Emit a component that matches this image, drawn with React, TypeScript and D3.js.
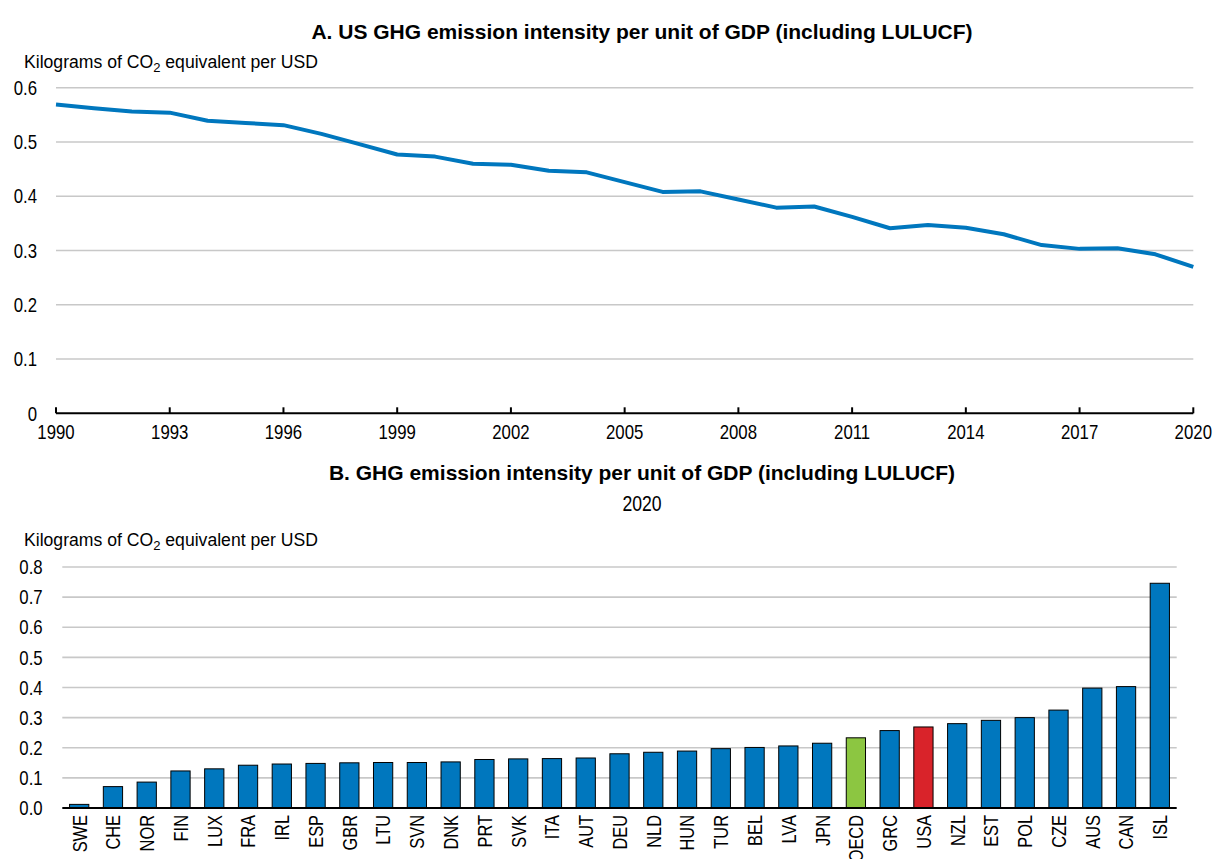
import React, { useEffect } from "react";
import * as d3 from "d3";

const years = [1990,1991,1992,1993,1994,1995,1996,1997,1998,1999,2000,2001,2002,2003,2004,2005,2006,2007,2008,2009,2010,2011,2012,2013,2014,2015,2016,2017,2018,2019,2020];
const usIntensity = [0.569,0.562,0.556,0.554,0.539,0.535,0.531,0.515,0.496,0.477,0.473,0.460,0.458,0.447,0.444,0.426,0.408,0.409,0.394,0.379,0.381,0.362,0.341,0.347,0.342,0.330,0.310,0.303,0.304,0.293,0.270];
const lineTicks = [1990,1993,1996,1999,2002,2005,2008,2011,2014,2017,2020];
const lineYTicks = [0,0.1,0.2,0.3,0.4,0.5,0.6];

const countries = ["SWE","CHE","NOR","FIN","LUX","FRA","IRL","ESP","GBR","LTU","SVN","DNK","PRT","SVK","ITA","AUT","DEU","NLD","HUN","TUR","BEL","LVA","JPN","OECD","GRC","USA","NZL","EST","POL","CZE","AUS","CAN","ISL"];
const intensity2020 = [0.012,0.071,0.086,0.123,0.130,0.142,0.146,0.148,0.150,0.151,0.151,0.153,0.161,0.163,0.164,0.166,0.180,0.185,0.189,0.197,0.201,0.206,0.215,0.233,0.257,0.269,0.280,0.291,0.300,0.325,0.398,0.403,0.746];
const barYTicks = [0,0.1,0.2,0.3,0.4,0.5,0.6,0.7,0.8];

const BLUE = "#0077BE";
const GREEN = "#8CC641";
const RED = "#D9232A";
const GRID = "#C8C8C8";
const FONT = "'Liberation Sans',Arial,sans-serif";

type NProps = {
  x: number;
  y: number;
  size: number;
  anchor?: "start" | "middle" | "end";
  sx?: number;
  rotate?: number;
  dy?: string;
  children: React.ReactNode;
};

function NText({ x, y, size, anchor = "start", sx = 0.84, rotate, dy, children }: NProps) {
  const tr = `translate(${x},${y})${rotate !== undefined ? ` rotate(${rotate})` : ""} scale(${sx},1)`;
  return (
    <text transform={tr} textAnchor={anchor} dy={dy} fontFamily={FONT} fontSize={size} fill="#000">
      {children}
    </text>
  );
}

function AxisTitle({ x, y }: { x: number; y: number }) {
  return (
    <text x={x} y={y} fontFamily={FONT} fontSize={17.5} fill="#000" textLength={294} lengthAdjust="spacingAndGlyphs">
      Kilograms of CO<tspan fontSize={13} dy={4}>2</tspan>
      <tspan dy={-4}> equivalent per USD</tspan>
    </text>
  );
}

export default function App() {
  useEffect(() => {
    document.body.style.margin = "0";
  }, []);

  // Panel A
  const xA = d3.scaleLinear().domain([1990, 2020]).range([56, 1193.3]);
  const yA = d3.scaleLinear().domain([0, 0.6]).range([413.3, 87.7]);
  const line = d3
    .line<number>()
    .x((_, i) => xA(years[i]))
    .y((d) => yA(d));

  // Panel B
  const xB = d3.scaleBand<string>().domain(countries).range([62.3, 1176.7]).paddingInner(0.43).paddingOuter(0.215);
  const yB = d3.scaleLinear().domain([0, 0.8]).range([808, 567]);
  const barColor = (c: string) => (c === "OECD" ? GREEN : c === "USA" ? RED : BLUE);

  return (
    <svg width={1213} height={859} style={{ display: "block", background: "#fff" }}>
      {/* Panel A */}
      <text x={642} y={39} textAnchor="middle" fontFamily={FONT} fontWeight="bold" fontSize={21}>
        A. US GHG emission intensity per unit of GDP (including LULUCF)
      </text>
      <AxisTitle x={24} y={68} />
      {lineYTicks.map((t) => (
        <g key={"ga" + t}>
          {t > 0 && (
            <line x1={xA(1990)} x2={xA(2020)} y1={yA(t)} y2={yA(t)} stroke={GRID} strokeWidth={1.6} />
          )}
          <NText x={37} y={yA(t)} dy="0.36em" anchor="end" size={20}>
            {t === 0 ? "0" : d3.format(".1f")(t)}
          </NText>
        </g>
      ))}
      <line x1={xA(1990)} x2={xA(2020)} y1={yA(0)} y2={yA(0)} stroke="#000" strokeWidth={2} />
      {lineTicks.map((t) => (
        <g key={"ta" + t}>
          <line x1={xA(t)} x2={xA(t)} y1={yA(0)} y2={yA(0) - 6} stroke="#000" strokeWidth={2} />
          <NText x={xA(t)} y={yA(0) + 26} anchor="middle" size={20}>
            {t}
          </NText>
        </g>
      ))}
      <path d={line(usIntensity) || ""} fill="none" stroke={BLUE} strokeWidth={4} strokeLinejoin="round" />

      {/* Panel B */}
      <text x={642} y={480} textAnchor="middle" fontFamily={FONT} fontWeight="bold" fontSize={21}>
        B. GHG emission intensity per unit of GDP (including LULUCF)
      </text>
      <NText x={642} y={511} anchor="middle" size={22} sx={0.8}>
        2020
      </NText>
      <AxisTitle x={24} y={545.5} />
      {barYTicks.map((t) => (
        <g key={"gb" + t}>
          {t > 0 && (
            <line x1={62.3} x2={1176.7} y1={yB(t)} y2={yB(t)} stroke={GRID} strokeWidth={1.6} />
          )}
          <NText x={42.7} y={yB(t)} dy="0.36em" anchor="end" size={20}>
            {d3.format(".1f")(t)}
          </NText>
        </g>
      ))}
      {countries.map((c, i) => (
        <rect
          key={c}
          x={xB(c)}
          y={yB(intensity2020[i])}
          width={xB.bandwidth()}
          height={yB(0) - yB(intensity2020[i])}
          fill={barColor(c)}
          stroke="#000"
          strokeWidth={1}
        />
      ))}
      <line x1={62.3} x2={1176.7} y1={yB(0)} y2={yB(0)} stroke="#000" strokeWidth={2} />
      {countries.map((c) => {
        const cx = (xB(c) || 0) + xB.bandwidth() / 2;
        return (
          <NText key={"l" + c} x={cx} y={815} rotate={-90} anchor="end" dy="0.36em" size={20.5} sx={0.8}>
            {c}
          </NText>
        );
      })}
    </svg>
  );
}
